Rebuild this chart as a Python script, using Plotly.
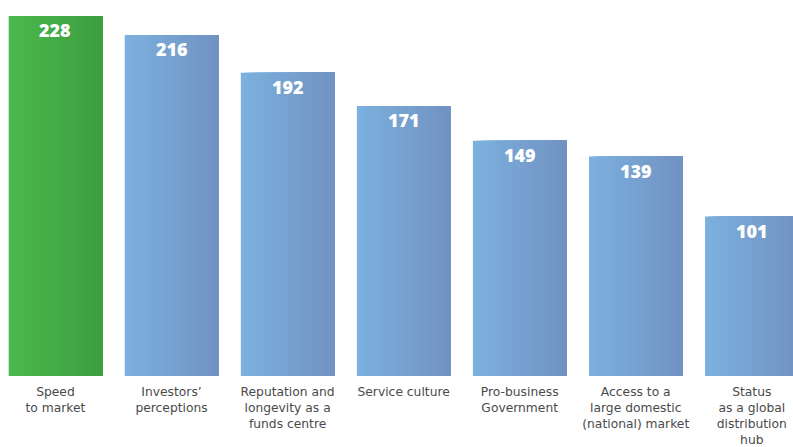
import plotly.graph_objects as go

categories = ["Speed<br>to market", "Investors’<br>perceptions",
              "Reputation and<br>longevity as a<br>funds centre", "Service culture",
              "Pro-business<br>Government", "Access to a<br>large domestic<br>(national) market",
              "Status<br>as a global<br>distribution<br>hub"]
values = [228, 216, 192, 171, 149, 139, 101]
value_labels = ["228", "216", "192", "171", "149", "139", "101"]

# gradient endpoints (left -> right) per bar
green = ((0x4c, 0xb8, 0x4c), (0x3c, 0x9e, 0x40))
blue = ((0x7c, 0xb0, 0xde), (0x71, 0x93, 0xc2))
bar_grad = [green] + [blue] * 6

BAR_W = 0.806
N = 24

def mix(a, b, t):
    return "rgb(%d,%d,%d)" % tuple(round(a[i] + (b[i] - a[i]) * t) for i in range(3))

fig = go.Figure()
for k in range(N):
    t = k / (N - 1)
    off = -BAR_W / 2 + k * BAR_W / N
    fig.add_trace(go.Bar(
        x=categories, y=values,
        width=BAR_W - k * BAR_W / N, offset=off,
        marker=dict(color=[mix(g[0], g[1], t) for g in bar_grad], line=dict(width=0)),
        hoverinfo="skip", showlegend=False,
    ))

for c, v, lab in zip(categories, values, value_labels):
    fig.add_annotation(x=c, y=v, text=lab, showarrow=False, yanchor="top", yshift=0,
                       font=dict(family="Open Sans", size=18, color="white", weight=800))

fig.update_layout(
    width=793, height=447,
    margin=dict(l=0, r=0, t=0, b=71),
    paper_bgcolor="white", plot_bgcolor="white",
    barmode="overlay",
    xaxis=dict(range=[-0.478, 6.355], showgrid=False, zeroline=False, showline=False,
               automargin=False,
               ticks="", tickfont=dict(family="DejaVu Sans", size=12.3, color="#4a4a4a"),
               ticklabelstandoff=7),
    yaxis=dict(range=[0, 238.1], visible=False),
)
fig.write_html("out.html", config={"displayModeBar": False},
               post_script="document.body.style.margin='0';document.body.style.overflow='hidden';")
